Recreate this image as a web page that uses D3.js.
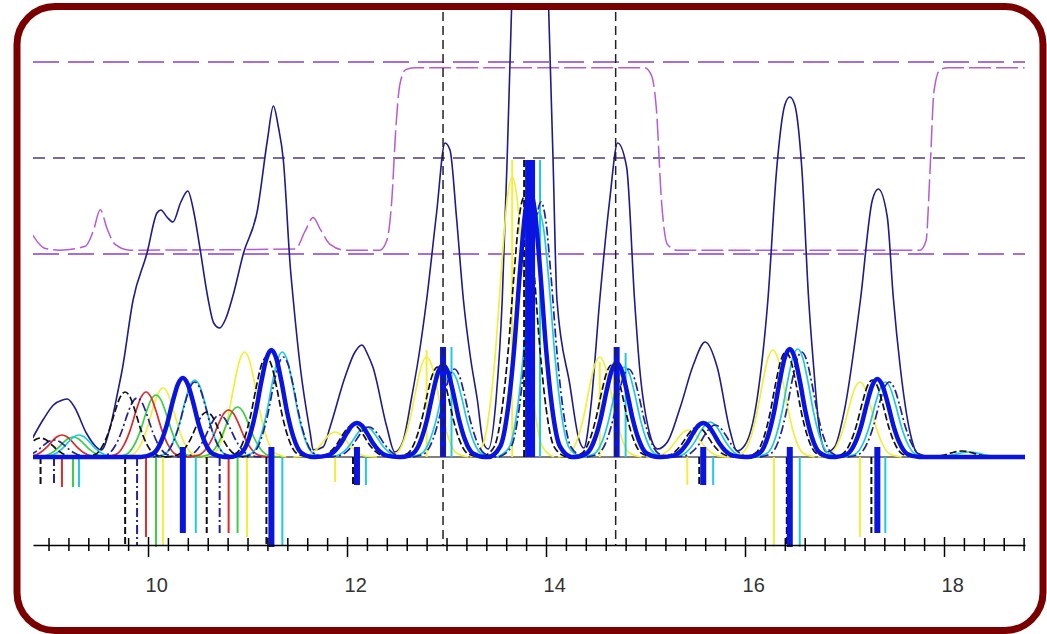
<!DOCTYPE html>
<html>
<head>
<meta charset="utf-8">
<script src="https://cdn.jsdelivr.net/npm/d3@7"></script>
<style>
  body { margin: 0; background: #fff; }
  svg { display: block; }
</style>
</head>
<body>
<div id="chart"></div>
<script>
// chromatogram overlay, retention time in minutes

const width = 1047;
const height = 634;

// total ion trace [minute, intensity]
const ticPoints = [
  [8.84, 19], [8.95, 38], [9.05, 52], [9.14, 57], [9.19, 58], [9.26, 50], [9.38, 24], [9.48, 10],
  [9.53, 7], [9.62, 30], [9.70, 67], [9.74, 87], [9.85, 157], [9.99, 204], [10.09, 244], [10.13, 247],
  [10.19, 240], [10.25, 235], [10.33, 255], [10.40, 266], [10.46, 245], [10.52, 210], [10.60, 160],
  [10.66, 134], [10.72, 129], [10.78, 138], [10.85, 160], [10.96, 204], [11.10, 247], [11.20, 317],
  [11.26, 351], [11.31, 330], [11.36, 297], [11.43, 190], [11.46, 157], [11.53, 90], [11.63, 24],
  [11.66, 7], [11.76, 10], [11.83, 30], [11.98, 80], [12.08, 105], [12.15, 112], [12.21, 102],
  [12.26, 90], [12.40, 30], [12.48, 5], [12.56, 15], [12.65, 60], [12.72, 100], [12.80, 157],
  [12.90, 244], [12.985, 314], [13.035, 307], [13.10, 240], [13.17, 157], [13.24, 100], [13.31, 57],
  [13.37, 14], [13.42, 8], [13.50, 60], [13.56, 157], [13.61, 300], [13.66, 470], [13.84, 1100],
  [14.02, 470], [14.07, 300], [14.11, 157], [14.24, 72], [14.33, 18], [14.38, 9], [14.45, 50],
  [14.54, 157], [14.64, 257], [14.72, 314], [14.81, 290], [14.89, 157], [14.94, 90], [15.04, 24],
  [15.12, 8], [15.22, 15], [15.35, 50], [15.48, 92], [15.60, 115], [15.72, 90], [15.85, 26],
  [15.92, 6], [16.00, 12], [16.12, 57], [16.23, 157], [16.32, 290], [16.40, 352], [16.45, 360],
  [16.50, 352], [16.57, 290], [16.64, 157], [16.69, 90], [16.75, 26], [16.82, 5], [16.90, 10],
  [17.00, 47], [17.16, 157], [17.28, 257], [17.34, 268], [17.43, 240], [17.49, 160], [17.56, 90],
  [17.66, 24], [17.73, 4], [17.85, 0], [18.81, 0]
];

// solvent gradient [minute, percent]
const gradientPoints = [
  [8.84, 10], [8.96, 3], [9.11, 2], [9.37, 4], [9.45, 12], [9.52, 23], [9.59, 13], [9.67, 5],
  [9.82, 2], [11.48, 2.6], [11.58, 12], [11.66, 19], [11.73, 13], [11.83, 5], [11.98, 2],
  [12.33, 2], [12.40, 7], [12.45, 28], [12.49, 65], [12.53, 88], [12.59, 96], [12.68, 97],
  [14.99, 97], [15.06, 93], [15.11, 75], [15.16, 28], [15.22, 5], [15.32, 2], [17.76, 2],
  [17.82, 7], [17.86, 44], [17.90, 85], [17.96, 96], [18.04, 97], [18.81, 97]
];
const gradientLevels = [0, 50, 100];

// common peak profile (offset in minutes, fraction of apex)
const peakOffsets = [-0.42, -0.30, -0.22, -0.16, -0.10, -0.05, 0, 0.05, 0.10, 0.16, 0.22, 0.30, 0.42];
const peakShape = [0, 0.04, 0.19, 0.41, 0.71, 0.92, 1, 0.92, 0.71, 0.41, 0.19, 0.04, 0];

// peaks [minute, height] and sticks [minute, signed length] per trace
const yellowPeaks = [[10.15, 69], [10.97, 105], [11.88, 25], [12.80, 100], [13.66, 280], [14.54, 100], [15.43, 27], [16.28, 107], [17.155, 75]];
const yellowSticks = [[10.15, -88], [10.995, -80], [11.88, -25], [12.80, 107], [13.66, 297], [14.54, 95], [15.42, -28], [16.29, -90], [17.155, -80]];
const greenPeaks = [[9.246, 20], [10.08, 62], [10.90, 50]];
const greenSticks = [[9.246, -30], [10.08, -90], [10.90, -76]];
const redPeaks = [[9.135, 22], [9.98, 65], [10.81, 47]];
const redSticks = [[9.135, -30], [9.98, -80], [10.81, -76]];
const navyPeaks = [[9.055, 17], [9.89, 59], [10.47, 75], [10.72, 42], [11.36, 100], [12.22, 30], [13.08, 88], [13.95, 255], [14.83, 88], [15.70, 32], [16.57, 105], [17.45, 75]];
const navySticks = [[9.055, -28], [9.89, -88], [10.72, -76]];
const cyanPeaks = [[9.306, 22], [10.47, 77], [11.35, 105], [12.19, 30], [13.05, 85], [13.93, 245], [14.79, 90], [15.65, 35], [16.53, 108], [17.41, 75], [18.25, 5]];
const cyanSticks = [[9.306, -30], [10.48, -76], [11.35, -88], [12.19, -28], [13.05, 110], [13.94, 297], [14.80, 104], [15.68, -28], [16.55, -90], [17.41, -76]];
const blackPeaks = [[8.92, 19], [9.77, 65], [10.59, 45], [11.19, 100], [12.06, 32], [12.91, 90], [13.78, 260], [14.66, 92], [15.52, 30], [16.41, 105], [17.28, 77], [18.18, 6]];
const blackSticks = [[8.92, -28], [9.77, -88], [10.59, -76], [11.19, -90], [12.06, -28], [13.78, 297], [15.54, -28], [16.42, -90], [17.27, -76]];
const bluePeaks = [[10.35, 79], [11.24, 107], [12.10, 34], [12.965, 92], [13.84, 265], [14.71, 94], [15.58, 34], [16.45, 108], [17.33, 78]];
const blueSticks = [[10.35, -76], [11.24, -90], [12.10, -28], [12.965, 110], [13.82, 297], [13.86, 297], [14.71, 110], [15.58, -28], [16.45, -90], [17.33, -76]];

// cut markers
const markerTimes = [12.965, 14.70];

// axis
const minorTicks = d3.range(90, 189, 2).map(v => v / 10);
const tickLabels = [10, 12, 14, 16, 18];

const svg = d3.select("#chart")
  .append("svg")
  .attr("width", width)
  .attr("height", height);

// frame
svg.append("rect")
  .attr("x", 17).attr("y", 6.5)
  .attr("width", 1026).attr("height", 624)
  .attr("rx", 38).attr("ry", 38)
  .attr("fill", "#fff")
  .attr("stroke", "#7a0000")
  .attr("stroke-width", 7);

const x = d3.scaleLinear().domain([8.844, 18.814]).range([33, 1025]);
const y = d3.scaleLinear().domain([-88, 447]).range([545, 10]);
const gy = d3.scaleLinear().domain([0, 100]).range([254, 62]);

svg.append("clipPath").attr("id", "clip")
  .append("rect").attr("x", 33).attr("y", 10).attr("width", 992).attr("height", 560);

const plot = svg.append("g").attr("clip-path", "url(#clip)");

const line = d3.line()
  .x(d => x(d[0]))
  .y(d => y(d[1]))
  .curve(d3.curveMonotoneX);

const peakPoints = p => peakOffsets.map((o, i) => [p[0] + o, p[1] * peakShape[i]]);

// gradient reference levels
plot.selectAll(".level")
  .data(gradientLevels)
  .enter().append("line")
  .attr("x1", x.range()[0]).attr("x2", x.range()[1])
  .attr("y1", d => gy(d)).attr("y2", d => gy(d))
  .attr("stroke", d => d === 50 ? "#4b3a88" : "#8a3fc8")
  .attr("stroke-width", 1.6)
  .attr("stroke-dasharray", d => d === 50 ? "12,8" : "26,9");

plot.append("path")
  .datum(gradientPoints)
  .attr("fill", "none")
  .attr("stroke", "#b65ad6")
  .attr("stroke-width", 1.5)
  .attr("stroke-dasharray", "22,5")
  .attr("d", d3.line().x(d => x(d[0])).y(d => gy(d[1])).curve(d3.curveMonotoneX));

// total ion trace
plot.append("path")
  .datum(ticPoints)
  .attr("fill", "none")
  .attr("stroke", "#1c1c8c")
  .attr("stroke-width", 1.6)
  .attr("d", line);

// thin traces
const traces = [
  { peaks: yellowPeaks, sticks: yellowSticks, color: "#f2ee3a", dash: null },
  { peaks: greenPeaks, sticks: greenSticks, color: "#3ccf44", dash: null },
  { peaks: redPeaks, sticks: redSticks, color: "#dd2a2a", dash: null },
  { peaks: cyanPeaks, sticks: cyanSticks, color: "#1ccbe0", dash: null },
  { peaks: navyPeaks, sticks: navySticks, color: "#22229a", dash: "9,3,2,3" },
  { peaks: blackPeaks, sticks: blackSticks, color: "#111", dash: "7,3" }
];

// baseline
plot.append("line")
  .attr("x1", x.range()[0]).attr("x2", x.range()[1])
  .attr("y1", y(0)).attr("y2", y(0))
  .attr("stroke", "#000").attr("stroke-width", 1.2);

traces.forEach(t => {
  plot.append("g").selectAll("path")
    .data(t.peaks)
    .enter().append("path")
    .attr("fill", "none")
    .attr("stroke", t.color)
    .attr("stroke-width", 1.7)
    .attr("stroke-dasharray", t.dash)
    .attr("d", p => line(peakPoints(p)));
  plot.append("g").selectAll("line")
    .data(t.sticks)
    .enter().append("line")
    .attr("x1", d => x(d[0])).attr("x2", d => x(d[0]))
    .attr("y1", y(0)).attr("y2", d => y(d[1]))
    .attr("stroke", t.color)
    .attr("stroke-width", 2)
    .attr("stroke-dasharray", t.dash);
});

// main trace (thick blue)
const blueLine = [[x.domain()[0], 0]];
bluePeaks.forEach(p => peakPoints(p).forEach(q => blueLine.push(q)));
blueLine.push([x.domain()[1], 0]);

plot.append("g").selectAll("line")
  .data(blueSticks)
  .enter().append("line")
  .attr("x1", d => x(d[0])).attr("x2", d => x(d[0]))
  .attr("y1", d => d[1] < 0 ? y(10) : y(0)).attr("y2", d => y(d[1]))
  .attr("stroke", "#0a14e0")
  .attr("stroke-width", 6);

plot.append("path")
  .datum(blueLine)
  .attr("fill", "none")
  .attr("stroke", "#0a14e0")
  .attr("stroke-width", 4.5)
  .attr("stroke-linejoin", "round")
  .attr("d", line);

// cut markers
plot.selectAll(".marker")
  .data(markerTimes)
  .enter().append("line")
  .attr("x1", d => x(d)).attr("x2", d => x(d))
  .attr("y1", 12).attr("y2", y(-88))
  .attr("stroke", "#222")
  .attr("stroke-width", 1.5)
  .attr("stroke-dasharray", "9,5");

// time axis
const axis = svg.append("g")
  .attr("transform", `translate(0,${y(-88)})`)
  .call(d3.axisBottom(x).tickValues(minorTicks).tickSizeOuter(0).tickFormat(""));

axis.select(".domain").attr("stroke", "#000").attr("stroke-width", 1.5);
axis.selectAll(".tick line")
  .attr("stroke", "#000")
  .attr("stroke-width", 1.5)
  .attr("y1", d => Math.abs(d % 2) < 0.01 ? -8 : -7)
  .attr("y2", d => Math.abs(d % 2) < 0.01 ? 12 : 6);

const labels = svg.append("g")
  .attr("transform", `translate(0,${y(-88)})`)
  .call(d3.axisBottom(x).tickValues(tickLabels).tickSize(0).tickPadding(0));

labels.select(".domain").remove();
labels.selectAll("text")
  .attr("text-anchor", "start")
  .attr("dx", -3)
  .attr("y", 47)
  .attr("dy", 0)
  .attr("fill", "#333")
  .attr("font-family", "Liberation Sans, Arial, sans-serif")
  .attr("font-size", 20);
</script>
</body>
</html>
